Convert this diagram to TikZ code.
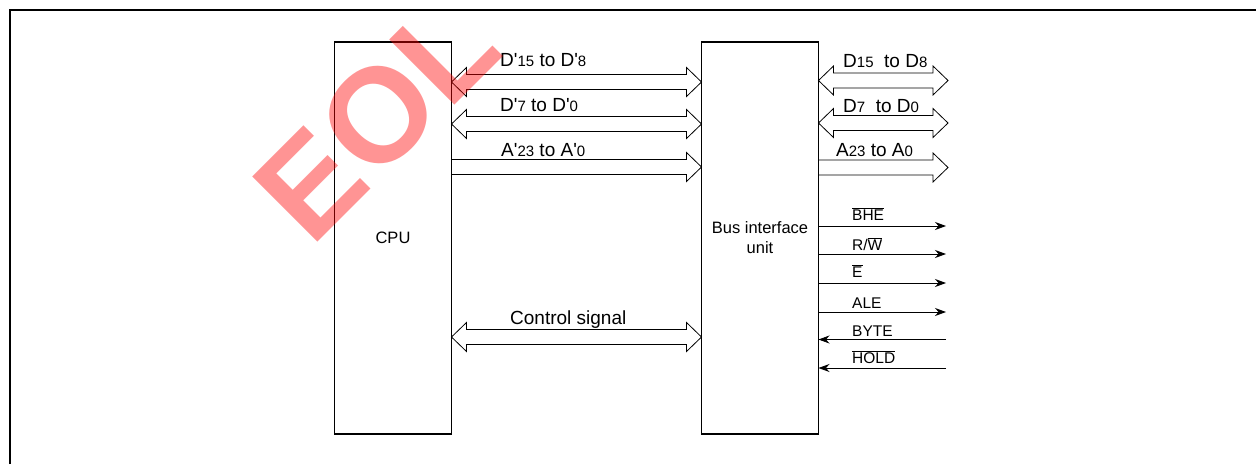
\documentclass[tikz,border=0pt]{standalone}
\usepackage{fontspec}
\setmainfont{Liberation Sans}
\usetikzlibrary{arrows.meta,calc}

\newcommand\dnum[1]{{\fontsize{15}{15}\selectfont #1}}
\newcommand\pr{\textquotesingle}
\newcommand\ovl[1]{$\overline{\mbox{#1}}$}

\tikzset{
  unitbox/.style={draw, line width=1.3pt, outer sep=0pt, minimum width=117pt,
    minimum height=392pt, align=center, font=\fontsize{16.5}{20}\selectfont},
  dbus/.style={line width=0.8pt, to path={-- ++(15pt,14.5pt) -- ++(0,-7pt)
    -- ($(\tikztotarget)+(-15pt,7.5pt)$) -- ++(0,7pt) -- (\tikztotarget)
    -- ++(-15pt,-14.5pt) -- ++(0,7pt) -- ($(\tikztostart)+(15pt,-7.5pt)$)
    -- ++(0,-7pt) -- cycle}},
  sbus/.style={line width=0.8pt, to path={-- ++(0,7.5pt)
    -- ($(\tikztotarget)+(-15pt,7.5pt)$) -- ++(0,7pt) -- (\tikztotarget)
    -- ++(-15pt,-14.5pt) -- ++(0,7pt) -- ($(\tikztostart)+(0,-7.5pt)$) -- cycle}},
  buslabel/.style={anchor=base west, inner sep=0pt, font=\fontsize{19}{19}\selectfont},
  siglabel/.style={anchor=base west, inner sep=0pt, font=\fontsize{15.5}{15.5}\selectfont},
  sig/.style={line width=0.8pt, -{Stealth[length=11pt,width=8pt]}},
}

\begin{document}
\begin{tikzpicture}[x=1pt,y=-1pt]
\useasboundingbox (0,0) rectangle (1256,464);

% outer frame, cut off at right and bottom
\draw[line width=2pt] (10,464) -- (10,10) -- (1256,10);

% the two blocks
\node[unitbox] (cpu) at (393,238) {CPU};
\node[unitbox] (biu) at (760,238) {Bus interface\\unit};

% buses between CPU and bus interface unit
\foreach \nm/\yy in {d15/82,d7/124,a23/167,ctl/337}{
  \coordinate (\nm L) at (cpu.east |- 0,\yy);
  \coordinate (\nm R) at (biu.west |- 0,\yy);
}
\draw[dbus] (d15L) to (d15R);
\draw[dbus] (d7L) to (d7R);
\draw[sbus] (a23L) to (a23R);
\draw[dbus] (ctlL) to (ctlR);

\node[buslabel] (ld15) at (500,66.5) {D\pr\dnum{15} to D\pr\dnum{8}};
\node[buslabel] (ld7) at (500,111.5) {D\pr\dnum{7} to D\pr\dnum{0}};
\node[buslabel] (la23) at (501,156) {A\pr\dnum{23} to A\pr\dnum{0}};
\node[buslabel] (lctl) at (510,324) {Control signal};

% external buses
\foreach \nm/\yy in {xd15/80.5,xd7/123,xa23/167.5}{
  \coordinate (\nm) at (948,\yy);
  \coordinate (b\nm) at (biu.east |- 0,\yy);
}
\draw[dbus] (bxd15) to (xd15);
\draw[dbus] (bxd7) to (xd7);
\draw[sbus] (bxa23) to (xa23);

\node[buslabel] (lxd15) at (843,67.5) {D\dnum{15}\ \ to D\dnum{8}};
\node[buslabel] (lxd7) at (843,112) {D\dnum{7}\ \ to D\dnum{0}};
\node[buslabel] (lxa23) at (836,156.5) {A\dnum{23} to A\dnum{0}};

% control lines
\foreach \nm/\yy in {bhe/226,rw/254,e/283,ale/312}{
  \coordinate (\nm) at (946,\yy);
  \draw[sig] (biu.east |- \nm) -- (\nm);
}
\foreach \nm/\yy in {byte/339.5,hold/368}{
  \coordinate (\nm) at (946,\yy);
  \draw[sig] (\nm) -- (biu.east |- \nm);
}
\node[siglabel] (lbhe) at (852,220.5) {\ovl{BHE}};
\node[siglabel] (lrw) at (852,250.5) {R/\ovl{W}};
\node[siglabel] (le) at (852,277) {\ovl{E}};
\node[siglabel] (lale) at (852,308) {ALE};
\node[siglabel] (lbyte) at (852,336) {BYTE};
\node[siglabel] (lhold) at (852,363.5) {\ovl{HOLD}};

% watermark
\node[text=red, opacity=.42, rotate=45, font=\bfseries\fontsize{134}{134}\selectfont]
  (eol) at (376,118) {EOL};

\end{tikzpicture}
\end{document}
